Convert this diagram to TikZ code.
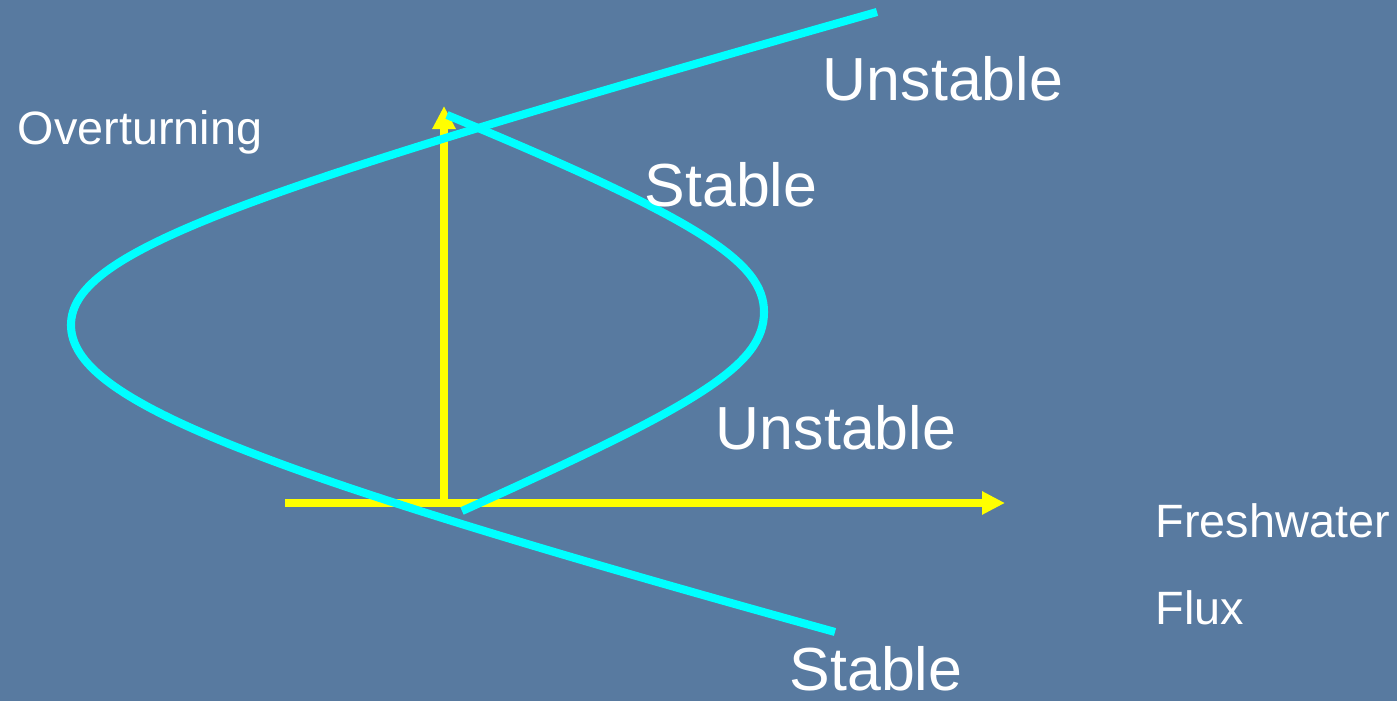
\documentclass[tikz,border=0pt]{standalone}
\usepackage{fontspec}
\setmainfont{Liberation Sans}
\usetikzlibrary{arrows.meta,positioning}
\definecolor{seablue}{RGB}{88,122,160}
\definecolor{branchcyan}{RGB}{0,255,255}
\definecolor{axisyellow}{RGB}{255,255,0}
\tikzset{
    % Axis arrows (yellow)
    axisline/.style={
        draw=axisyellow, line width=2pt,
        -{Triangle[length=0.23cm,width=0.22cm]}
    },
    % Equilibrium branches (cyan)
    branchline/.style={
        draw=branchcyan, line width=2.3pt, line cap=butt
    },
    % Labels
    biglabel/.style={text=white, font=\fontsize{17.3}{20}\selectfont, inner sep=0pt},
    smalllabel/.style={text=white, font=\fontsize{13.3}{16}\selectfont, inner sep=0pt, anchor=west},
}
\begin{document}
\begin{tikzpicture}[x=0.01cm,y=-0.01cm]
      \fill[seablue] (0,0) rectangle (1397,701);
      \useasboundingbox (0,0) rectangle (1397,701);
      % axes
      \coordinate (origin) at (444,503);
      \coordinate (xstart) at (285,503);
      \coordinate (xend) at (1005,503);
      \coordinate (yend) at (444,106);
      \draw[axisline] (xstart) -- (xend);
      \draw[axisline] (origin) -- (yend);
      % branches
      \draw[branchline] (877,12) .. controls (250,190) and (71,250) .. (71,325)
                        .. controls (71,400) and (250,470) .. (835,632);
      \draw[branchline] (447,115) .. controls (700,220) and (764,262) .. (764,312)
                        .. controls (764,365) and (700,404) .. (462,511);
      % labels
      \node[biglabel] (unstabletop) at (943,79) {Unstable};
      \node[biglabel] (stabletop) at (731,185) {Stable};
      \node[biglabel] (unstablemid) at (836,428) {Unstable};
      \node[biglabel] (stablelow) at (876,669) {Stable};
      \node[smalllabel] (yname) at (17,132) {Overturning};
      \node[smalllabel] (xname) at (1155,521) {Freshwater};
      \node[smalllabel] (xname2) at (1155,608) {Flux};
    \end{tikzpicture}
\end{document}
